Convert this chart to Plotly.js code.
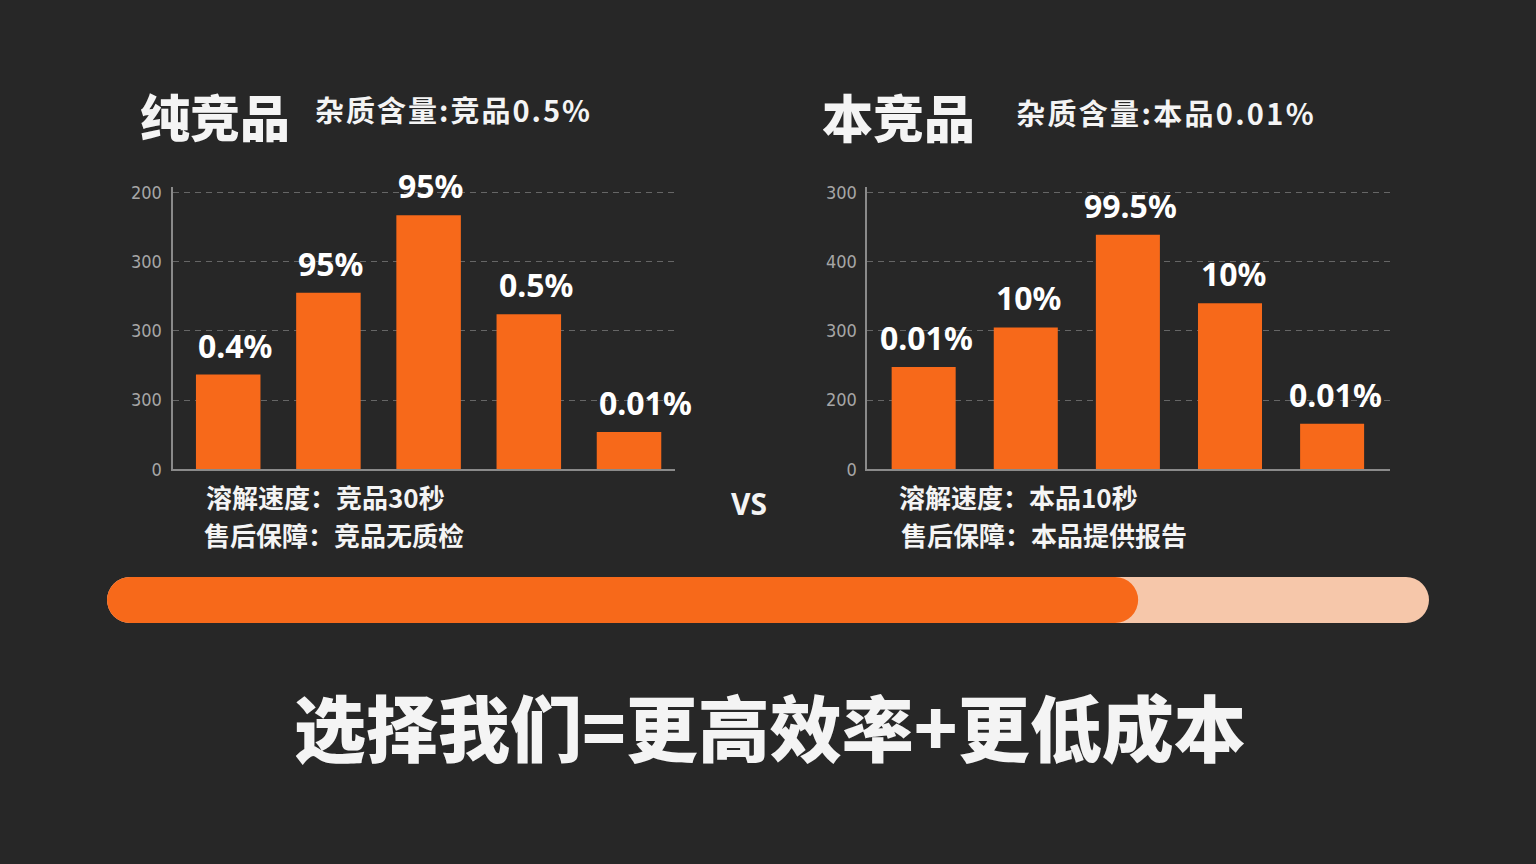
<!DOCTYPE html>
<html>
<head>
<meta charset="utf-8">
<script src="https://cdn.plot.ly/plotly-3.0.1.min.js"></script>
<style>
  html, body { margin: 0; padding: 0; background: #272727; }
  #chart { width: 1536px; height: 864px; }
</style>
</head>
<body>
<div id="chart"></div>
<script>
// ---- data ----
const categories = ["1", "2", "3", "4", "5"];
const leftValues = [137, 255, 367, 224, 54];
const leftLabels = ["0.4%", "95%", "95%", "0.5%", "0.01%"];
const rightValues = [148, 205, 339, 240, 66];
const rightLabels = ["0.01%", "10%", "99.5%", "10%", "0.01%"];
const tickValues = [0, 100, 200, 300, 400];
const leftTickText = ["0", "300", "300", "300", "200"];
const rightTickText = ["0", "200", "300", "400", "300"];
const progressValue = 78;
const progressTotal = 100;

const leftTitle = "纯竞品";
const leftSubtitle = "杂质含量:竞品0.5%";
const rightTitle = "本竞品";
const rightSubtitle = "杂质含量:本品0.01%";
const leftNotes = ["溶解速度：竞品30秒", "售后保障：竞品无质检"];
const rightNotes = ["溶解速度：本品10秒", "售后保障：本品提供报告"];
const vsText = "VS";
const slogan = "选择我们=更高效率+更低成本";

// ---- style ----
const W = 1536, H = 864;
const px = v => v / W;
const py = v => 1 - v / H;
const ORANGE = "#F7691A";
const LIGHT = "#F6C7AA";
const CJK = "Noto Sans CJK SC";
const leftBarW = 0.644, rightBarW = 0.627;

const traces = [
  { type: "bar", x: categories, y: leftValues, xaxis: "x", yaxis: "y",
    width: leftBarW, marker: { color: ORANGE }, hoverinfo: "skip", showlegend: false },
  { type: "bar", x: categories, y: rightValues, xaxis: "x2", yaxis: "y2",
    width: rightBarW, marker: { color: ORANGE }, hoverinfo: "skip", showlegend: false },
  // progress track and fill (floating-base bars get all corners rounded)
  { type: "bar", orientation: "h", y: [0], x: [progressTotal], base: [0],
    xaxis: "x3", yaxis: "y3", width: 0.767,
    marker: { color: LIGHT, cornerradius: "50%" }, hoverinfo: "skip", showlegend: false },
  { type: "bar", orientation: "h", y: [0], x: [progressValue], base: [0],
    xaxis: "x3", yaxis: "y3", width: 0.767,
    marker: { color: ORANGE, cornerradius: "50%" }, hoverinfo: "skip", showlegend: false }
];

const gridCol = "#666666";
const lineCol = "#8a8a8a";
const tickFont = { family: "Liberation Sans Narrow, DejaVu Sans Condensed, sans-serif", size: 18, color: "#a6a6a6" };

function yAx(ticktext) {
  return {
    domain: [py(469.3), py(187)], range: [0, 408],
    tickmode: "array", tickvals: tickValues, ticktext: ticktext,
    showgrid: true, gridcolor: gridCol, griddash: "6px,5px", gridwidth: 1,
    showline: true, linecolor: lineCol, linewidth: 2, zeroline: false,
    ticks: "", ticklabelstandoff: 5, tickfont: tickFont, fixedrange: true
  };
}
function xAx(domain, range, anchor) {
  return {
    domain: domain, range: range, type: "category", anchor: anchor,
    showticklabels: false, showgrid: false, zeroline: false, ticks: "",
    showline: true, linecolor: lineCol, linewidth: 2, fixedrange: true
  };
}

const annotations = [];
function barLabels(values, labels, xref, yref, barW, anchor) {
  values.forEach((v, i) => {
    annotations.push({
      xref: xref, yref: yref,
      x: anchor === "left" ? i - barW / 2 : i, y: v,
      xanchor: anchor, yanchor: "bottom", yshift: 6, xshift: anchor === "left" ? 0 : 3,
      text: labels[i], showarrow: false,
      font: { family: "Noto Sans, " + CJK, size: 32, color: "#ffffff", weight: 700 }
    });
  });
}
barLabels(leftValues, leftLabels, "x", "y", leftBarW, "left");
barLabels(rightValues, rightLabels, "x2", "y2", rightBarW, "center");

const spaced = {};
function txt(text, x, y, size, weight, xanchor, family, spacing) {
  if (spacing) spaced[annotations.length] = spacing;
  annotations.push({
    xref: "paper", yref: "paper", x: px(x), y: py(y),
    xanchor: xanchor || "left", yanchor: "middle", showarrow: false, text: text,
    font: { family: family || CJK, size: size, color: "#f4f4f4", weight: weight }
  });
}
txt(leftTitle, 138, 115, 50, 900);
txt(leftSubtitle, 324, 109, 29, 700, "left", null, 2);
txt(rightTitle, 820, 116, 51, 900);
txt(rightSubtitle, 1028, 112, 29, 700, "left", null, 2.3);
txt(leftNotes[0], 204, 496, 26, 700);
txt(leftNotes[1], 202, 534, 26, 700);
txt(rightNotes[0], 897, 496, 26, 700);
txt(rightNotes[1], 899, 534, 26, 700);
txt(vsText, 749, 503, 30, 700, "center", "Noto Sans, sans-serif");
txt(slogan, 770, 724, 72, 900, "center");

const layout = {
  width: W, height: H,
  margin: { l: 0, r: 0, t: 0, b: 0 },
  paper_bgcolor: "#272727", plot_bgcolor: "rgba(0,0,0,0)",
  barmode: "overlay", showlegend: false,
  xaxis: xAx([px(172.5), px(675)], [-0.556, 4.459], "y"),
  yaxis: yAx(leftTickText),
  xaxis2: xAx([px(867.4), px(1389.8)], [-0.551, 4.565], "y2"),
  yaxis2: Object.assign(yAx(rightTickText), { anchor: "x2" }),
  xaxis3: { domain: [px(107), px(1429)], range: [0, progressTotal], anchor: "y3",
    visible: false, fixedrange: true },
  yaxis3: { domain: [py(630), py(570)], range: [-0.5, 0.5], anchor: "x3",
    visible: false, fixedrange: true },
  annotations: annotations
};

Plotly.newPlot("chart", traces, layout, { displayModeBar: false, staticPlot: true }).then(gd => {
  // letter spacing for the subtitles
  const nodes = gd.querySelectorAll(".annotation");
  Object.keys(spaced).forEach(k => {
    const n = nodes[+k];
    if (n) {
      const t = n.querySelector("text.annotation-text");
      if (t) t.style.letterSpacing = spaced[k] + "px";
    }
  });
});
</script>
</body>
</html>
